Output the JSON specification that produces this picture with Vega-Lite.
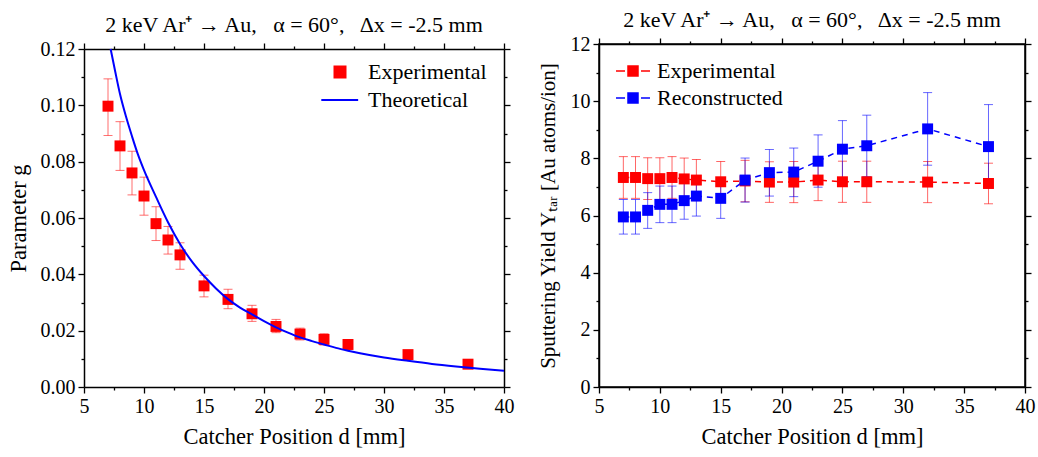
{
  "$schema": "https://vega.github.io/schema/vega-lite/v6.json",
  "background": "white",
  "padding": {"left": 7, "top": 8, "right": 5, "bottom": 5},
  "spacing": 22,
  "resolve": {"scale": {"fill": "independent", "stroke": "independent", "shape": "independent", "color": "independent"}, "legend": {"fill": "independent", "stroke": "independent", "shape": "independent", "color": "independent"}},
  "config": {
    "font": "Liberation Serif",
    "view": {"stroke": "black", "strokeWidth": 1.5},
    "axis": {"labelFont": "Liberation Serif", "labelFontSize": 20, "labelColor": "black", "titleFont": "Liberation Serif", "titleFontSize": 22.5, "titleFontWeight": "normal", "titleColor": "black", "domainColor": "black", "domainWidth": 1.5, "tickColor": "black", "tickWidth": 1.3, "grid": false, "labelFlush": false, "labelOverlap": false, "labelPadding": 3},
    "title": {"font": "Liberation Serif", "fontSize": 22, "fontWeight": "normal", "color": "black"},
    "legend": {"labelFont": "Liberation Serif", "labelFontSize": 22, "labelColor": "black", "padding": 0}
  },
  "datasets": {
    "gexp": [
      {"d": 7, "g": 0.0997, "lo": 0.0893, "hi": 0.1094, "series": "Experimental"},
      {"d": 8, "g": 0.0856, "lo": 0.0769, "hi": 0.0942, "series": "Experimental"},
      {"d": 9, "g": 0.076, "lo": 0.0682, "hi": 0.0837, "series": "Experimental"},
      {"d": 10, "g": 0.0678, "lo": 0.061, "hi": 0.0745, "series": "Experimental"},
      {"d": 11, "g": 0.058, "lo": 0.052, "hi": 0.064, "series": "Experimental"},
      {"d": 12, "g": 0.0522, "lo": 0.0472, "hi": 0.057, "series": "Experimental"},
      {"d": 13, "g": 0.0469, "lo": 0.0418, "hi": 0.0512, "series": "Experimental"},
      {"d": 15, "g": 0.0359, "lo": 0.032, "hi": 0.0397, "series": "Experimental"},
      {"d": 17, "g": 0.0311, "lo": 0.0278, "hi": 0.0347, "series": "Experimental"},
      {"d": 19, "g": 0.026, "lo": 0.0233, "hi": 0.029, "series": "Experimental"},
      {"d": 21, "g": 0.0215, "lo": 0.0193, "hi": 0.024, "series": "Experimental"},
      {"d": 23, "g": 0.0188, "lo": 0.0167, "hi": 0.0209, "series": "Experimental"},
      {"d": 25, "g": 0.0169, "lo": 0.0149, "hi": 0.0189, "series": "Experimental"},
      {"d": 27, "g": 0.0151, "lo": 0.0133, "hi": 0.0168, "series": "Experimental"},
      {"d": 32, "g": 0.0115, "lo": 0.0103, "hi": 0.0127, "series": "Experimental"},
      {"d": 37, "g": 0.0081, "lo": 0.0073, "hi": 0.0089, "series": "Experimental"}
    ],
    "gth": [
      {"d": 7.22, "g": 0.12, "series": "Theoretical"},
      {"d": 7.6, "g": 0.112, "series": "Theoretical"},
      {"d": 8, "g": 0.104, "series": "Theoretical"},
      {"d": 8.5, "g": 0.096, "series": "Theoretical"},
      {"d": 9, "g": 0.089, "series": "Theoretical"},
      {"d": 9.5, "g": 0.0825, "series": "Theoretical"},
      {"d": 10, "g": 0.077, "series": "Theoretical"},
      {"d": 11, "g": 0.0675, "series": "Theoretical"},
      {"d": 12, "g": 0.0585, "series": "Theoretical"},
      {"d": 13, "g": 0.0508, "series": "Theoretical"},
      {"d": 14, "g": 0.0445, "series": "Theoretical"},
      {"d": 15, "g": 0.0394, "series": "Theoretical"},
      {"d": 16, "g": 0.035, "series": "Theoretical"},
      {"d": 17, "g": 0.0312, "series": "Theoretical"},
      {"d": 18, "g": 0.0282, "series": "Theoretical"},
      {"d": 19, "g": 0.0258, "series": "Theoretical"},
      {"d": 20, "g": 0.0234, "series": "Theoretical"},
      {"d": 21, "g": 0.0212, "series": "Theoretical"},
      {"d": 22, "g": 0.0193, "series": "Theoretical"},
      {"d": 23, "g": 0.0176, "series": "Theoretical"},
      {"d": 24, "g": 0.0163, "series": "Theoretical"},
      {"d": 25, "g": 0.0151, "series": "Theoretical"},
      {"d": 26, "g": 0.0139, "series": "Theoretical"},
      {"d": 27, "g": 0.0129, "series": "Theoretical"},
      {"d": 28, "g": 0.012, "series": "Theoretical"},
      {"d": 30, "g": 0.0105, "series": "Theoretical"},
      {"d": 32, "g": 0.0093, "series": "Theoretical"},
      {"d": 34, "g": 0.0082, "series": "Theoretical"},
      {"d": 36, "g": 0.0073, "series": "Theoretical"},
      {"d": 38, "g": 0.0065, "series": "Theoretical"},
      {"d": 40, "g": 0.0058, "series": "Theoretical"}
    ],
    "yield": [
      {"d": 7, "y": 7.33, "lo": 6.6, "hi": 8.06, "series": "Experimental"},
      {"d": 8, "y": 7.33, "lo": 6.6, "hi": 8.06, "series": "Experimental"},
      {"d": 9, "y": 7.29, "lo": 6.56, "hi": 8.02, "series": "Experimental"},
      {"d": 10, "y": 7.29, "lo": 6.56, "hi": 8.02, "series": "Experimental"},
      {"d": 11, "y": 7.33, "lo": 6.6, "hi": 8.06, "series": "Experimental"},
      {"d": 12, "y": 7.28, "lo": 6.55, "hi": 8.01, "series": "Experimental"},
      {"d": 13, "y": 7.24, "lo": 6.52, "hi": 7.96, "series": "Experimental"},
      {"d": 15, "y": 7.18, "lo": 6.47, "hi": 7.89, "series": "Experimental"},
      {"d": 17, "y": 7.21, "lo": 6.48, "hi": 7.93, "series": "Experimental"},
      {"d": 19, "y": 7.17, "lo": 6.46, "hi": 7.88, "series": "Experimental"},
      {"d": 21, "y": 7.17, "lo": 6.45, "hi": 7.89, "series": "Experimental"},
      {"d": 23, "y": 7.24, "lo": 6.52, "hi": 7.96, "series": "Experimental"},
      {"d": 25, "y": 7.18, "lo": 6.46, "hi": 7.9, "series": "Experimental"},
      {"d": 27, "y": 7.18, "lo": 6.46, "hi": 7.9, "series": "Experimental"},
      {"d": 32, "y": 7.17, "lo": 6.45, "hi": 7.89, "series": "Experimental"},
      {"d": 37, "y": 7.12, "lo": 6.41, "hi": 7.83, "series": "Experimental"},
      {"d": 7, "y": 5.95, "lo": 5.35, "hi": 6.56, "series": "Reconstructed"},
      {"d": 8, "y": 5.95, "lo": 5.35, "hi": 6.56, "series": "Reconstructed"},
      {"d": 9, "y": 6.18, "lo": 5.55, "hi": 6.8, "series": "Reconstructed"},
      {"d": 10, "y": 6.39, "lo": 5.75, "hi": 7.03, "series": "Reconstructed"},
      {"d": 11, "y": 6.39, "lo": 5.75, "hi": 7.03, "series": "Reconstructed"},
      {"d": 12, "y": 6.52, "lo": 5.87, "hi": 7.17, "series": "Reconstructed"},
      {"d": 13, "y": 6.68, "lo": 5.98, "hi": 7.36, "series": "Reconstructed"},
      {"d": 15, "y": 6.6, "lo": 5.9, "hi": 7.28, "series": "Reconstructed"},
      {"d": 17, "y": 7.24, "lo": 6.47, "hi": 8.01, "series": "Reconstructed"},
      {"d": 19, "y": 7.5, "lo": 6.68, "hi": 8.31, "series": "Reconstructed"},
      {"d": 21, "y": 7.52, "lo": 6.66, "hi": 8.36, "series": "Reconstructed"},
      {"d": 23, "y": 7.9, "lo": 6.99, "hi": 8.82, "series": "Reconstructed"},
      {"d": 25, "y": 8.32, "lo": 7.31, "hi": 9.32, "series": "Reconstructed"},
      {"d": 27, "y": 8.44, "lo": 7.36, "hi": 9.51, "series": "Reconstructed"},
      {"d": 32, "y": 9.03, "lo": 7.76, "hi": 10.3, "series": "Reconstructed"},
      {"d": 37, "y": 8.41, "lo": 6.96, "hi": 9.88, "series": "Reconstructed"}
    ]
  },
  "hconcat": [
    {
      "width": 420,
      "height": 343,
      "view": {"stroke": null},
      "title": {"text": "2 keV Ar⁺ → Au,\u00a0\u00a0 α = 60°,\u00a0\u00a0 Δx = -2.5 mm", "offset": 2},
      "layer": [
        {
          "data": {"name": "gexp"},
          "mark": {"type": "errorbar", "color": "#ff2020", "opacity": 0.65, "ticks": {"size": 9}},
          "encoding": {
            "x": {"field": "d", "type": "quantitative", "scale": {"domain": [5, 40], "nice": false}, "axis": null},
            "y": {"field": "lo", "type": "quantitative", "scale": {"domain": [0, 0.12], "nice": false, "range": [343, 5]}, "axis": null},
            "y2": {"field": "hi"}
          }
        },
        {
          "data": {"name": "gexp"},
          "mark": {"type": "point", "filled": true, "size": 120, "opacity": 1},
          "encoding": {
            "x": {"field": "d", "type": "quantitative", "scale": {"domain": [5, 40], "nice": false},
              "axis": {"orient": "bottom", "values": [5, 7.5, 10, 12.5, 15, 17.5, 20, 22.5, 25, 27.5, 30, 32.5, 35, 37.5, 40], "labelExpr": "datum.value % 5 === 0 ? datum.label : ''", "tickSize": {"condition": {"test": "datum.value % 5 === 0", "value": 6}, "value": 3}, "title": "Catcher Position d [mm]", "titlePadding": 9}},
            "y": {"field": "g", "type": "quantitative", "scale": {"domain": [0, 0.12], "nice": false, "range": [343, 5]},
              "axis": {"orient": "left", "values": [0, 0.01, 0.02, 0.03, 0.04, 0.05, 0.06, 0.07, 0.08, 0.09, 0.1, 0.11, 0.12], "format": ".2f", "labelExpr": "round(datum.value*100) % 2 === 0 ? datum.label : ''", "tickSize": {"condition": {"test": "round(datum.value*100) % 2 === 0", "value": 6}, "value": 3}, "title": "Parameter g", "titlePadding": 10}},
            "fill": {"field": "series", "type": "nominal", "scale": {"domain": ["Experimental", "Theoretical"], "range": ["#ff0000", "#0000ff"]},
              "legend": {"title": null, "orient": "top-right", "offset": 17, "symbolSize": 121, "symbolStrokeWidth": 2, "labelOffset": 17, "rowPadding": 6}},
            "shape": {"field": "series", "type": "nominal", "scale": {"domain": ["Experimental", "Theoretical"], "range": ["square", "M-3.4,0L3.3,0"]},
              "legend": {"title": null, "orient": "top-right", "offset": 17, "symbolSize": 121, "symbolStrokeWidth": 2, "labelOffset": 17, "rowPadding": 6}}
          }
        },
        {
          "data": {"name": "gth"},
          "mark": {"type": "line", "interpolate": "monotone", "strokeWidth": 2, "clip": true},
          "encoding": {
            "x": {"field": "d", "type": "quantitative", "scale": {"domain": [5, 40], "nice": false},
              "axis": {"orient": "top", "offset": -5, "values": [5, 7.5, 10, 12.5, 15, 17.5, 20, 22.5, 25, 27.5, 30, 32.5, 35, 37.5, 40], "labels": false, "title": null, "tickSize": {"condition": {"test": "datum.value % 5 === 0", "value": 6}, "value": 3}}},
            "y": {"field": "g", "type": "quantitative", "scale": {"domain": [0, 0.12], "nice": false, "range": [343, 5]},
              "axis": {"orient": "right", "values": [0, 0.01, 0.02, 0.03, 0.04, 0.05, 0.06, 0.07, 0.08, 0.09, 0.1, 0.11, 0.12], "labels": false, "title": null, "tickSize": {"condition": {"test": "round(datum.value*100) % 2 === 0", "value": 6}, "value": 3}}},
            "stroke": {"field": "series", "type": "nominal", "scale": {"domain": ["Experimental", "Theoretical"], "range": ["#ff0000", "#0000ff"]},
              "legend": {"title": null, "orient": "top-right", "offset": 17, "symbolSize": 121, "symbolStrokeWidth": 2, "labelOffset": 17, "rowPadding": 6}}
          }
        }
      ],
      "resolve": {"axis": {"x": "independent", "y": "independent"}}
    },
    {
      "width": 426,
      "height": 343,
      "title": {"text": "2 keV Ar⁺ → Au,\u00a0\u00a0 α = 60°,\u00a0\u00a0 Δx = -2.5 mm", "offset": 2},
      "layer": [
        {
          "data": {"name": "yield"},
          "transform": [{"filter": "datum.series === 'Experimental'"}],
          "mark": {"type": "errorbar", "color": "#ff0000", "opacity": 0.6, "ticks": {"size": 9}},
          "encoding": {
            "x": {"field": "d", "type": "quantitative", "scale": {"domain": [5, 40], "nice": false}, "axis": null},
            "y": {"field": "lo", "type": "quantitative", "scale": {"domain": [0, 12], "nice": false}, "axis": null},
            "y2": {"field": "hi"}
          }
        },
        {
          "data": {"name": "yield"},
          "transform": [{"filter": "datum.series === 'Reconstructed'"}],
          "mark": {"type": "errorbar", "color": "#0000ff", "opacity": 0.6, "ticks": {"size": 9}},
          "encoding": {
            "x": {"field": "d", "type": "quantitative", "scale": {"domain": [5, 40], "nice": false}, "axis": null},
            "y": {"field": "lo", "type": "quantitative", "scale": {"domain": [0, 12], "nice": false}, "axis": null},
            "y2": {"field": "hi"}
          }
        },
        {
          "data": {"name": "yield"},
          "mark": {"type": "line", "strokeDash": [6, 5], "strokeWidth": 1.5},
          "encoding": {
            "x": {"field": "d", "type": "quantitative", "scale": {"domain": [5, 40], "nice": false},
              "axis": {"orient": "top", "values": [5, 7.5, 10, 12.5, 15, 17.5, 20, 22.5, 25, 27.5, 30, 32.5, 35, 37.5, 40], "labels": false, "title": null, "tickSize": {"condition": {"test": "datum.value % 5 === 0", "value": 6}, "value": 3}}},
            "y": {"field": "y", "type": "quantitative", "scale": {"domain": [0, 12], "nice": false},
              "axis": {"orient": "right", "values": [0, 1, 2, 3, 4, 5, 6, 7, 8, 9, 10, 11, 12], "labels": false, "title": null, "tickSize": {"condition": {"test": "datum.value % 2 === 0", "value": 6}, "value": 3}}},
            "stroke": {"field": "series", "type": "nominal", "scale": {"domain": ["Experimental", "Reconstructed"], "range": ["#ff0000", "#0000ff"]},
              "legend": {"title": null, "orient": "top-left", "offset": 16, "symbolOffset": 7, "symbolType": "M-3.4,0L-1.6,0M1.6,0L3.4,0M-1,-1L1,-1L1,1L-1,1Z", "symbolSize": 100, "symbolStrokeWidth": 1.5, "labelOffset": 13, "rowPadding": 5}}
          }
        },
        {
          "data": {"name": "yield"},
          "mark": {"type": "point", "shape": "square", "filled": true, "size": 120, "opacity": 1},
          "encoding": {
            "x": {"field": "d", "type": "quantitative", "scale": {"domain": [5, 40], "nice": false},
              "axis": {"orient": "bottom", "values": [5, 7.5, 10, 12.5, 15, 17.5, 20, 22.5, 25, 27.5, 30, 32.5, 35, 37.5, 40], "labelExpr": "datum.value % 5 === 0 ? datum.label : ''", "tickSize": {"condition": {"test": "datum.value % 5 === 0", "value": 6}, "value": 3}, "title": "Catcher Position d [mm]", "titlePadding": 9}},
            "y": {"field": "y", "type": "quantitative", "scale": {"domain": [0, 12], "nice": false},
              "axis": {"orient": "left", "values": [0, 1, 2, 3, 4, 5, 6, 7, 8, 9, 10, 11, 12], "labelExpr": "datum.value % 2 === 0 ? datum.label : ''", "tickSize": {"condition": {"test": "datum.value % 2 === 0", "value": 6}, "value": 3}, "title": "Sputtering Yield Yₜₐᵣ [Au atoms/ion]", "titleFontSize": 21, "titlePadding": 12}},
            "fill": {"field": "series", "type": "nominal", "scale": {"domain": ["Experimental", "Reconstructed"], "range": ["#ff0000", "#0000ff"]},
              "legend": {"title": null, "orient": "top-left", "offset": 16, "symbolOffset": 7, "symbolType": "M-3.4,0L-1.6,0M1.6,0L3.4,0M-1,-1L1,-1L1,1L-1,1Z", "symbolSize": 100, "symbolStrokeWidth": 1.5, "labelOffset": 13, "rowPadding": 5}}
          }
        }
      ],
      "resolve": {"axis": {"x": "independent", "y": "independent"}}
    }
  ]
}
